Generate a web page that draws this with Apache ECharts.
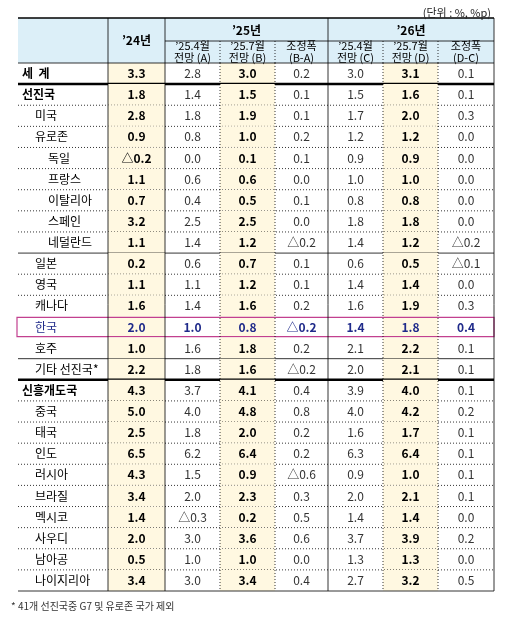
<!DOCTYPE html>
<html><head><meta charset="utf-8">
<script src="https://cdn.jsdelivr.net/npm/echarts@6/dist/echarts.min.js"></script>
<style>html,body{margin:0;padding:0;background:#fff}#main{width:508px;height:622px}</style>
</head><body><div id="main"></div>
<script>
// 국가/지역 이름, 들여쓰기 단계
var names = ['세  계','선진국','미국','유로존','독일','프랑스','이탈리아','스페인','네덜란드','일본','영국','캐나다','한국','호주','기타 선진국*','신흥개도국','중국','태국','인도','러시아','브라질','멕시코','사우디','남아공','나이지리아'];
var levels = [0,0,1,1,2,2,2,2,2,1,1,1,1,1,1,0,1,1,1,1,1,1,1,1,1];
var colHeads = ['\u201924년','\u201925.4월\n전망 (A)','\u201925.7월\n전망 (B)','조정폭\n(B-A)','\u201925.4월\n전망 (C)','\u201925.7월\n전망 (D)','조정폭\n(D-C)'];
var yearHeads = ['\u201925년','\u201926년'];
var g24 = [3.3,1.8,2.8,0.9,-0.2,1.1,0.7,3.2,1.1,0.2,1.1,1.6,2.0,1.0,2.2,4.3,5.0,2.5,6.5,4.3,3.4,1.4,2.0,0.5,3.4];
var g25A = [2.8,1.4,1.8,0.8,0.0,0.6,0.4,2.5,1.4,0.6,1.1,1.4,1.0,1.6,1.8,3.7,4.0,1.8,6.2,1.5,2.0,-0.3,3.0,1.0,3.0];
var g25B = [3.0,1.5,1.9,1.0,0.1,0.6,0.5,2.5,1.2,0.7,1.2,1.6,0.8,1.8,1.6,4.1,4.8,2.0,6.4,0.9,2.3,0.2,3.6,1.0,3.4];
var d25 = [0.2,0.1,0.1,0.2,0.1,0.0,0.1,0.0,-0.2,0.1,0.1,0.2,-0.2,0.2,-0.2,0.4,0.8,0.2,0.2,-0.6,0.3,0.5,0.6,0.0,0.4];
var g26C = [3.0,1.5,1.7,1.2,0.9,1.0,0.8,1.8,1.4,0.6,1.4,1.6,1.4,2.1,2.0,3.9,4.0,1.6,6.3,0.9,2.0,1.4,3.7,1.3,2.7];
var g26D = [3.1,1.6,2.0,1.2,0.9,1.0,0.8,1.8,1.2,0.5,1.4,1.9,1.8,2.2,2.1,4.0,4.2,1.7,6.4,1.0,2.1,1.4,3.9,1.3,3.2];
var d26 = [0.1,0.1,0.3,0.0,0.0,0.0,0.0,0.0,-0.2,-0.1,0.0,0.3,0.4,0.1,0.1,0.1,0.2,0.1,0.1,0.1,0.1,0.0,0.2,0.0,0.5];
var columns = [g24,g25A,g25B,d25,g26C,g26D,d26];

var colX = [18,108,165,220,275,328,383,438,494];
var tableTop = 18, headBottom = 63, tableBottom = 591;
var rowH = (tableBottom - headBottom) / names.length;
var boldCols = [0,2,5];
var solidAfter = {8:1,13:1,24:1};
var thickAfter = {0:1,14:1};
var korea = 12;
var font = '"Noto Sans CJK KR", sans-serif';

function fmt(v){ return v < 0 ? '\u25B3' + Math.abs(v).toFixed(1) : v.toFixed(1); }

function line(api,x1,y1,x2,y2,w,dash){
  var a = api.coord([x1,y1]), b = api.coord([x2,y2]);
  return {type:'line', shape:{x1:a[0],y1:a[1],x2:b[0],y2:b[1]},
    style:{stroke:'#000', lineWidth:w, lineDash: dash ? [1,2] : null}};
}

function renderHeader(params, api){
  var ch = [];
  var p0 = api.coord([colX[1],tableTop]), p1 = api.coord([colX[8],headBottom]);
  ch.push({type:'rect', shape:{x:p0[0],y:p0[1],width:p1[0]-p0[0],height:p1[1]-p0[1]}, style:{fill:'#DCEFF8'}});
  var q0 = api.coord([colX[0],tableTop]);
  ch.push({type:'rect', shape:{x:q0[0],y:q0[1],width:p0[0]-q0[0],height:p1[1]-p0[1]}, style:{fill:'#DCEFF8'}});
  // 연도 헤더
  for (var k=0;k<2;k++){
    var c = api.coord([(colX[2+k*3]+colX[5+k*3])/2, 30]);
    ch.push({type:'text', style:{text:yearHeads[k], x:c[0], y:c[1], align:'center', verticalAlign:'middle', font:'bold 12px '+font, fill:'#000'}});
  }
  var c24 = api.coord([(colX[1]+colX[2])/2, 40]);
  ch.push({type:'text', style:{text:colHeads[0], x:c24[0], y:c24[1], align:'center', verticalAlign:'middle', font:'bold 12px '+font, fill:'#000'}});
  for (var i=1;i<7;i++){
    var c2 = api.coord([(colX[i+1]+colX[i+2])/2, 52]);
    ch.push({type:'text', style:{text:colHeads[i], x:c2[0], y:c2[1], align:'center', verticalAlign:'middle', font:'11px '+font, lineHeight:12, fill:'#000'}});
  }
  ch.push(line(api,colX[0],tableTop,colX[8],tableTop,1.5));
  ch.push(line(api,colX[2],41,colX[8],41,0.8));
  ch.push(line(api,colX[0],headBottom,colX[8],headBottom,0.8));
  ch.push(line(api,colX[1],tableTop,colX[1],tableBottom,0.8));
  ch.push(line(api,colX[2],tableTop,colX[2],tableBottom,0.8));
  ch.push(line(api,colX[5],tableTop,colX[5],tableBottom,0.8));
  ch.push(line(api,colX[8],tableTop,colX[8],tableBottom,0.8));
  [3,4,6,7].forEach(function(j){ ch.push(line(api,colX[j],41,colX[j],headBottom,0.8,true)); ch.push(line(api,colX[j],headBottom,colX[j],tableBottom,0.8,true)); });
  return {type:'group', children:ch};
}

function renderRow(params, api){
  var r = api.value(0);
  var y0 = headBottom + r*rowH, yc = y0 + rowH/2, y1 = y0 + rowH;
  var ch = [];
  boldCols.forEach(function(ci){
    var a = api.coord([colX[ci+1], y0]), b = api.coord([colX[ci+2], y1]);
    ch.push({type:'rect', shape:{x:a[0],y:a[1],width:b[0]-a[0],height:b[1]-a[1]}, style:{fill:'#FFF8E1'}});
  });
  var isK = r === korea;
  var lp = api.coord([colX[0] + 4 + levels[r]*13, yc]);
  ch.push({type:'text', style:{text:names[r], x:lp[0], y:lp[1], verticalAlign:'middle',
    font:(levels[r]===0?'bold ':'')+'12px '+font, fill:isK?'#1F2A8A':'#000'}});
  for (var i=0;i<7;i++){
    var v = columns[i][r];
    var bold = isK || boldCols.indexOf(i) >= 0;
    var c = api.coord([(colX[i+1]+colX[i+2])/2, yc]);
    ch.push({type:'text', style:{text:fmt(v), x:c[0], y:c[1], align:'center', verticalAlign:'middle',
      font:(bold?'bold ':'')+'12px '+font, fill:isK?'#1F2A8A':(bold?'#000':'#333')}});
  }
  if (thickAfter[r]) ch.push(line(api,colX[0],y1,colX[8],y1,2.5));
  else if (solidAfter[r]) ch.push(line(api,colX[0],y1,colX[8],y1,0.8));
  else if (r !== korea && r !== korea-1) ch.push(line(api,colX[0],y1,colX[8],y1,0.8,true));
  if (isK){
    var a2 = api.coord([colX[0]-1, y0+1]), b2 = api.coord([colX[8], y1-1]);
    ch.push({type:'rect', shape:{x:a2[0],y:a2[1],width:b2[0]-a2[0],height:b2[1]-a2[1]}, style:{fill:null, stroke:'#C2408F', lineWidth:1.2}});
  }
  return {type:'group', children:ch};
}

var rowIdx = names.map(function(n,i){ return [i]; });
var chart = echarts.init(document.getElementById('main'));
chart.setOption({
  animation:false,
  grid:{left:0,right:0,top:0,bottom:0},
  xAxis:{type:'value', min:0, max:508, show:false},
  yAxis:{type:'value', min:0, max:622, inverse:true, show:false},
  title:[
    {text:'(단위 : %, %p)', right:12, top:2, textStyle:{fontSize:11, fontWeight:'normal', color:'#222', fontFamily:font}},
    {text:'* 41개 선진국중 G7 및 유로존 국가 제외', left:6, top:596, textStyle:{fontSize:10, fontWeight:'normal', color:'#333', fontFamily:font}}
  ],
  series:[
    {type:'custom', renderItem:renderRow, data:rowIdx, silent:true, z:1},
    {type:'custom', renderItem:renderHeader, data:[[0]], silent:true, z:2}
  ]
});
</script></body></html>
